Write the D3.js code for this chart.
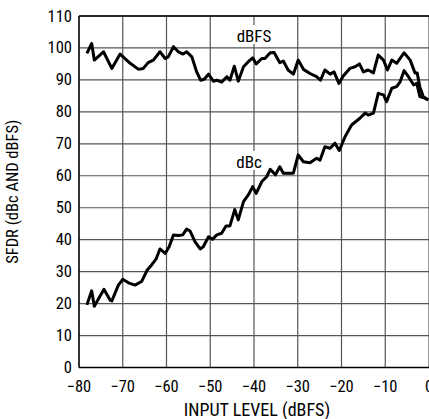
<!DOCTYPE html>
<html>
<head>
<meta charset="utf-8">
<script src="https://cdn.jsdelivr.net/npm/d3@7"></script>
<style>
  body { margin: 0; background: #fff; }
  text { font-family: "Liberation Sans Narrow", "Roboto Condensed", "Liberation Sans", Arial, sans-serif; fill: #000; }
</style>
</head>
<body>
<svg id="chart" width="429" height="419"></svg>
<script>
// input level (dBFS) for each series point
const dbfsX = [-78.2, -77.1, -76.5, -74.4, -72.5, -70.6, -68.3, -66.4, -65.3, -64.2, -63.0, -61.5, -60.3, -59.6, -58.4, -57.3, -56.2, -55.4, -54.2, -53.1, -52.2, -51.4, -50.4, -49.3, -48.5, -47.4, -46.2, -45.5, -44.5, -43.6, -42.4, -41.3, -40.3, -39.5, -38.2, -37.5, -36.3, -35.4, -34.1, -33.3, -32.2, -31.0, -29.9, -28.7, -27.2, -25.7, -24.8, -23.8, -22.6, -21.7, -20.6, -19.6, -18.1, -16.9, -15.9, -15.0, -13.9, -12.7, -11.6, -10.4, -9.5, -8.5, -7.4, -5.7, -4.3, -3.2, -2.7, -2.1, -1.3, -0.2]
const dbfsY = [98.3, 101.4, 96.2, 98.8, 93.6, 98.1, 95.2, 93.3, 93.6, 95.4, 96.2, 98.8, 96.7, 97.2, 100.4, 98.8, 98.1, 98.8, 97.2, 92.5, 89.9, 90.2, 91.8, 89.6, 89.9, 89.3, 91.0, 89.9, 94.3, 89.6, 94.1, 95.7, 96.9, 95.0, 96.7, 96.7, 98.5, 98.6, 95.4, 95.9, 93.1, 91.8, 96.2, 93.3, 92.0, 91.0, 89.9, 93.1, 91.8, 92.5, 88.9, 91.2, 93.6, 94.1, 95.0, 92.5, 93.1, 92.2, 97.8, 96.2, 93.1, 96.2, 95.2, 98.5, 96.2, 92.2, 92.2, 87.8, 84.7, 83.7]

const dbcX = [-78.2, -77.1, -76.5, -74.3, -72.9, -72.5, -71.0, -70.0, -68.7, -67.2, -65.7, -64.4, -63.4, -62.4, -61.5, -60.3, -59.4, -58.4, -57.3, -56.3, -55.4, -54.6, -53.5, -52.3, -51.6, -50.4, -49.5, -48.5, -47.4, -46.4, -45.5, -44.4, -43.6, -42.4, -41.3, -40.3, -39.5, -38.2, -37.1, -36.3, -35.1, -34.1, -33.3, -32.2, -31.0, -29.9, -28.7, -27.2, -25.7, -24.9, -23.8, -22.6, -21.5, -20.5, -19.2, -17.7, -15.8, -14.6, -13.9, -12.7, -11.6, -10.4, -9.7, -8.5, -7.4, -6.6, -5.7, -4.7, -3.5, -2.8, -2.1, -0.9, -0.2]
const dbcY = [19.6, 24.0, 19.2, 24.5, 21.1, 20.8, 25.8, 27.6, 26.5, 25.8, 26.9, 30.5, 32.1, 33.9, 37.1, 35.7, 37.8, 41.5, 41.3, 41.5, 43.3, 42.7, 39.4, 37.1, 37.8, 40.9, 40.1, 41.5, 42.0, 44.3, 44.3, 49.4, 46.2, 51.9, 54.0, 56.6, 54.5, 58.2, 59.7, 62.0, 60.3, 62.8, 60.8, 60.8, 60.8, 66.5, 64.4, 64.1, 65.5, 64.9, 69.1, 68.6, 70.2, 67.9, 72.2, 75.9, 78.0, 79.6, 79.0, 79.6, 85.8, 85.3, 83.2, 87.4, 87.9, 89.4, 92.9, 91.0, 88.4, 88.9, 84.8, 84.3, 83.7]

const xTicks = [-80, -70, -60, -50, -40, -30, -20, -10, 0]
const yTicks = [0, 10, 20, 30, 40, 50, 60, 70, 80, 90, 100, 110]

const margin = { left: 79, top: 16, right: 0, bottom: 51.5 }
const width = 429
const height = 419

const svg = d3.select('#chart')

const x = d3.scaleLinear().domain([-80, 0]).range([margin.left, width - margin.right])
const y = d3.scaleLinear().domain([0, 110]).range([height - margin.bottom, margin.top])

// grid
svg.append('g')
  .selectAll('line')
  .data(xTicks.slice(1))
  .join('line')
  .attr('x1', (d) => x(d)).attr('x2', (d) => x(d))
  .attr('y1', y(110)).attr('y2', y(0))
  .attr('stroke', '#555').attr('stroke-width', 1.2)

svg.append('g')
  .selectAll('line')
  .data(yTicks.slice(1))
  .join('line')
  .attr('x1', x(-80)).attr('x2', x(0))
  .attr('y1', (d) => y(d)).attr('y2', (d) => y(d))
  .attr('stroke', '#555').attr('stroke-width', 1.2)

// frame
svg.append('line')
  .attr('x1', x(-80)).attr('x2', x(-80))
  .attr('y1', y(110)).attr('y2', y(0))
  .attr('stroke', '#000').attr('stroke-width', 1.6)
svg.append('line')
  .attr('x1', x(-80)).attr('x2', x(0))
  .attr('y1', y(0)).attr('y2', y(0))
  .attr('stroke', '#000').attr('stroke-width', 1.6)
svg.append('line')
  .attr('x1', x(-80)).attr('x2', x(0))
  .attr('y1', y(110)).attr('y2', y(110))
  .attr('stroke', '#000').attr('stroke-width', 1.6)

// tick labels
svg.append('g')
  .selectAll('text')
  .data(yTicks)
  .join('text')
  .attr('x', x(-80) - 7)
  .attr('y', (d) => y(d) + 5.5)
  .attr('text-anchor', 'end')
  .style('font-size', '16.5px')
  .text((d) => d)

svg.append('g')
  .selectAll('text')
  .data(xTicks)
  .join('text')
  .attr('x', (d) => x(d))
  .attr('y', y(0) + 24)
  .attr('text-anchor', 'middle')
  .style('font-size', '16.5px')
  .text((d) => (d < 0 ? '\u2212' + Math.abs(d) : d))

// axis titles
svg.append('text')
  .attr('x', 257)
  .attr('y', 416)
  .attr('text-anchor', 'middle')
  .style('font-size', '18px')
  .text('INPUT LEVEL (dBFS)')

svg.append('text')
  .attr('transform', `translate(18,${(y(0) + y(110)) / 2}) rotate(-90)`)
  .attr('text-anchor', 'middle')
  .style('font-size', '16.5px')
  .text('SFDR (dBc AND dBFS)')

// curves
const line = d3.line().x((d) => x(d[0])).y((d) => y(d[1]))

svg.append('path')
  .datum(d3.zip(dbfsX, dbfsY))
  .attr('d', line)
  .attr('fill', 'none').attr('stroke', '#000').attr('stroke-width', 3)
  .attr('stroke-linejoin', 'round')

svg.append('path')
  .datum(d3.zip(dbcX, dbcY))
  .attr('d', line)
  .attr('fill', 'none').attr('stroke', '#000').attr('stroke-width', 3)
  .attr('stroke-linejoin', 'round')

// curve labels
svg.append('rect')
  .attr('x', 232).attr('y', 25).attr('width', 44).attr('height', 19).attr('fill', '#fff')
svg.append('text')
  .attr('x', 254).attr('y', 42)
  .attr('text-anchor', 'middle')
  .style('font-size', '17px')
  .text('dBFS')

svg.append('rect')
  .attr('x', 233).attr('y', 151).attr('width', 32).attr('height', 19).attr('fill', '#fff')
svg.append('text')
  .attr('x', 249).attr('y', 168)
  .attr('text-anchor', 'middle')
  .style('font-size', '17px')
  .text('dBc')
</script>
</body>
</html>
